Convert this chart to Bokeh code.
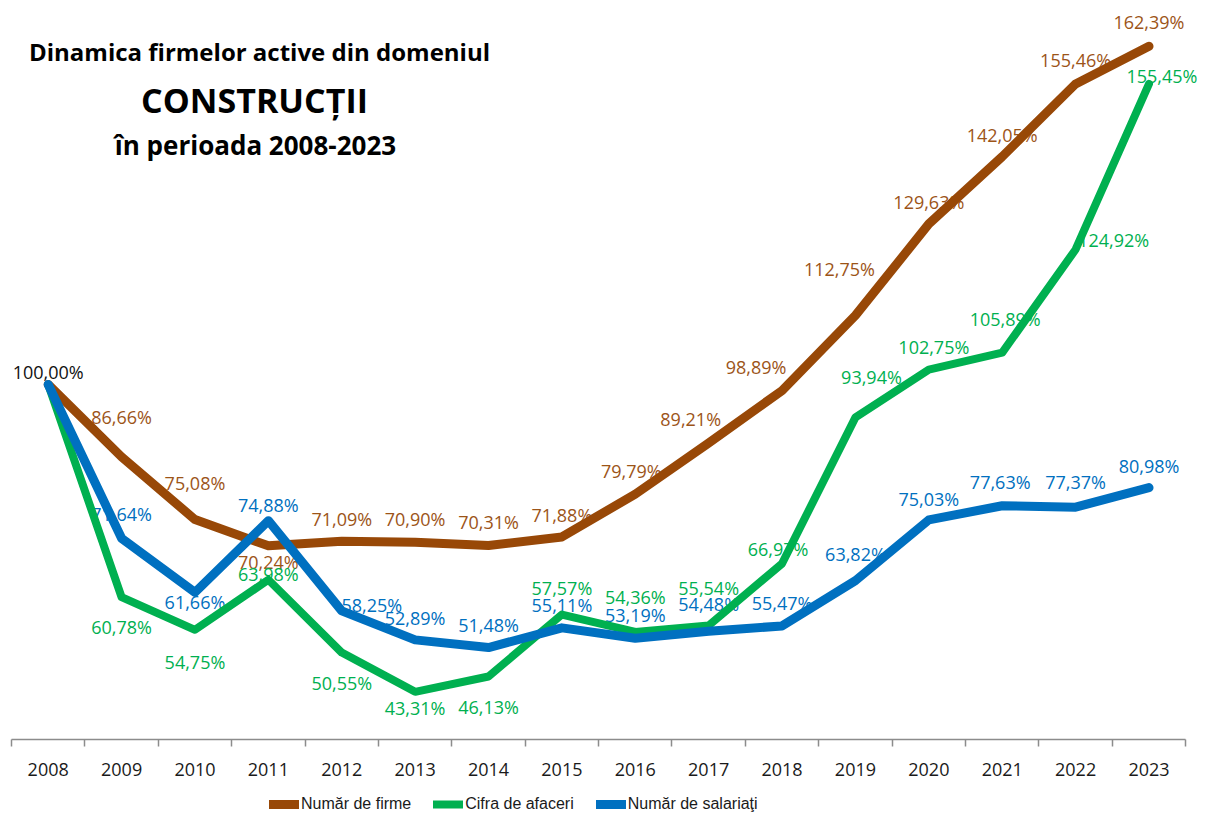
from bokeh.plotting import figure
from bokeh.models import Range1d, FixedTicker, Legend, LegendItem, Label, ColumnDataSource
from bokeh.core.properties import value
from bokeh.embed import file_html
from bokeh.resources import INLINE

# ---------------- data ----------------
years = [str(y) for y in range(2008, 2024)]
firme = [100.00, 86.66, 75.08, 70.24, 71.09, 70.90, 70.31, 71.88, 79.79, 89.21,
         98.89, 112.75, 129.63, 142.05, 155.46, 162.39]
cifra = [100.00, 60.78, 54.75, 63.98, 50.55, 43.31, 46.13, 57.57, 54.36, 55.54,
         66.97, 93.94, 102.75, 105.89, 124.92, 155.45]
salariati = [100.00, 71.64, 61.66, 74.88, 58.25, 52.89, 51.48, 55.11, 53.19, 54.48,
             55.47, 63.82, 75.03, 77.63, 77.37, 80.98]
series_names = ["Număr de firme", "Cifra de afaceri", "Număr de salariaţi"]

# label placement (pixel offsets from each point)
firme_dx = [0, 0, 0, 0, 0, 0, 0, 0, -4, -18, -26, -16, 0, 0, 0, 0]
firme_dy = [-13, -40, -37, 16, -22, -23, -23, -22, -23, -24, -24, -46, -22, -22, -24, -24]
cifra_dx = [0, 0, 0, 0, 0, 0, 0, 0, 0, 0, -4, 16, 5, 3, 38, 13]
cifra_dy = [0, 30, 32, -6, 30, 16, 30, -27, -35, -38, -15, -40, -23, -34, -9, -8]
salariati_dx = [0, 0, 0, 0, 30, 0, 0, 0, 0, 0, 0, 0, 0, -2, 0, 0]
salariati_dy = [0, -24, 10, -16, -6, -22, -23, -23, -23, -27, -23, -27, -21, -24, -25, -22]

BROWN, GREEN, BLUE = "#984807", "#00B050", "#0070C0"
LBL_BROWN = "#9C5418"

def fmt(v):
    return ("%.2f" % v).replace(".", ",") + "%"

idx = list(range(len(years)))

p = figure(width=1205, height=822, output_backend="svg", toolbar_location=None,
           x_range=Range1d(-0.65, 15.77), y_range=Range1d(19.2, 170.85),
           min_border_left=0, min_border_right=0, min_border_top=0, min_border_bottom=0)
p.outline_line_color = None
p.xgrid.visible = False
p.ygrid.visible = False
p.yaxis.visible = False
p.background_fill_color = "white"
p.border_fill_color = "white"

ax = p.xaxis[0]
ax.fixed_location = 34.5
ax.bounds = (-0.5, len(years) - 0.5)
ax.ticker = FixedTicker(ticks=idx, minor_ticks=[i - 0.5 for i in range(len(years) + 1)])
ax.major_label_overrides = {i: years[i] for i in idx}
ax.major_tick_line_color = None
ax.major_tick_out = 7
ax.major_tick_in = 0
ax.minor_tick_line_color = "#8C8C8C"
ax.minor_tick_out = 7
ax.minor_tick_in = 0
ax.minor_tick_line_width = 1.5
ax.axis_line_color = "#8C8C8C"
ax.axis_line_width = 1.5
ax.major_label_text_font = "Open Sans"
ax.major_label_text_font_size = "18px"
ax.major_label_text_color = "#1a1a1a"
ax.major_label_standoff = 16

# ---------------- data labels (drawn under the lines) ----------------
def add_labels(vals, dx, dy, color, skip_first=True):
    start = 1 if skip_first else 0
    src = ColumnDataSource(dict(
        x=idx[start:], y=vals[start:], t=[fmt(v) for v in vals[start:]],
        dx=dx[start:], dy=dy[start:]))
    p.text(x="x", y="y", text="t", x_offset="dx", y_offset="dy", source=src,
           text_font=value("Open Sans"), text_font_size="18px", text_color=color,
           text_align="center", text_baseline="middle")

add_labels(firme, firme_dx, firme_dy, LBL_BROWN)
add_labels(cifra, cifra_dx, cifra_dy, GREEN)
add_labels(salariati, salariati_dx, salariati_dy, BLUE)
# first-year label (common 100%)
src0 = ColumnDataSource(dict(x=[idx[0]], y=[firme[0]], t=[fmt(firme[0])],
                             dx=[firme_dx[0]], dy=[firme_dy[0]]))
p.text(x="x", y="y", text="t", x_offset="dx", y_offset="dy", source=src0,
       text_font=value("Open Sans"), text_font_size="18px", text_color="#111111",
       text_align="center", text_baseline="middle")

# ---------------- lines ----------------
r1 = p.line(idx, firme, line_width=9, color=BROWN, line_cap="round", line_join="round")
r2 = p.line(idx, cifra, line_width=8, color=GREEN, line_cap="round", line_join="round")
r3 = p.line(idx, salariati, line_width=9, color=BLUE, line_cap="round", line_join="round")

# ---------------- title ----------------
title_lines = [("Dinamica firmelor active din domeniul", 259, 771, "24px"),
               ("CONSTRUCȚII", 254, 723, "34px"),
               ("în perioada 2008-2023", 255, 678, "26px")]
for txt, sx, sy, fs in title_lines:
    p.add_layout(Label(x=sx, y=sy, x_units="screen", y_units="screen", text=txt,
                       text_align="center", text_baseline="middle",
                       text_font="Open Sans", text_font_style="bold",
                       text_font_size=fs, text_color="black"))

# ---------------- legend ----------------
legend = Legend(items=[LegendItem(label=series_names[0], renderers=[r1]),
                       LegendItem(label=series_names[1], renderers=[r2]),
                       LegendItem(label=series_names[2], renderers=[r3])],
                orientation="horizontal", location=(269, 8),
                label_text_font="Liberation Sans", label_text_font_size="16px",
                label_text_color="#1a1a1a", glyph_width=30, glyph_height=20,
                label_standoff=2, spacing=22, padding=0, margin=0,
                border_line_color=None, background_fill_alpha=0)
p.add_layout(legend, "center")

open("out.html", "w").write(file_html(p, INLINE))
